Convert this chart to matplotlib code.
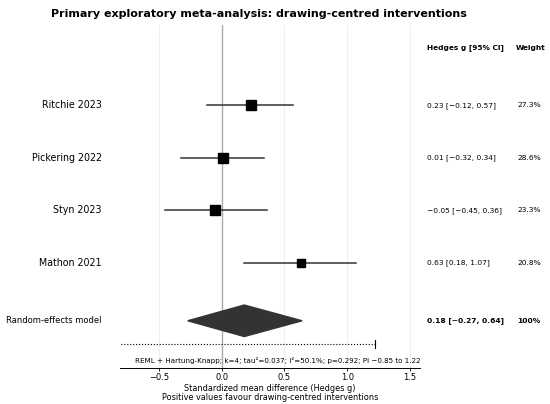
import numpy as np
import matplotlib
matplotlib.use("Agg")
import matplotlib.pyplot as plt
import matplotlib.transforms as mtransforms

# Study-level data
studies = ['Ritchie 2023', 'Pickering 2022', 'Styn 2023', 'Mathon 2021']
g = [0.23, 0.01, -0.05, 0.63]
ci_lo = [-0.12, -0.32, -0.45, 0.18]
ci_hi = [0.57, 0.34, 0.36, 1.07]
weights = [27.3, 28.6, 23.3, 20.8]

# Pooled random-effects estimate
pooled_g = 0.18
pooled_lo = -0.27
pooled_hi = 0.64
pi_lo = -0.85
pi_hi = 1.22
stats_text = 'REML + Hartung-Knapp; k=4; tau\u00b2=0.037; I\u00b2=50.1%; p=0.292; PI \u22120.85 to 1.22'

xticks = [-0.5, 0.0, 0.5, 1.0, 1.5]

fig = plt.figure(figsize=(5.5, 4.04), dpi=100)
ax = fig.add_axes([0.218, 0.089, 0.546, 0.849])

ys = np.arange(len(studies), 0, -1)  # 4,3,2,1
y_pooled = -0.1
y_pi = -0.54

ax.axvline(0, color='#aaaaaa', lw=1.0, zorder=1)
for t in xticks:
    ax.axvline(t, color='#eeeeee', lw=0.7, zorder=0)

for y, est, lo, hi, w in zip(ys, g, ci_lo, ci_hi, weights):
    ax.plot([lo, hi], [y, y], color='#333333', lw=1.1, zorder=2)
    ax.plot(est, y, marker='s', color='black', markersize=1.4 * np.sqrt(w), zorder=3)

# pooled diamond
dh = 0.3
ax.fill([pooled_lo, pooled_g, pooled_hi, pooled_g],
        [y_pooled, y_pooled + dh, y_pooled, y_pooled - dh],
        color='#333333', zorder=3)

# prediction interval
ax.plot([pi_lo, pi_hi], [y_pi, y_pi], color='black', lw=0.8, ls=':', zorder=2)
ax.plot([pi_hi, pi_hi], [y_pi - 0.07, y_pi + 0.07], color='black', lw=0.8, zorder=2)

ax.set_xlim(-0.81, 1.58)
ax.set_ylim(-1.0, 5.53)
ax.set_xticks(xticks)
ax.set_xticklabels(['\u22120.5', '0.0', '0.5', '1.0', '1.5'], fontsize=6)
ax.tick_params(axis='x', length=2.5, width=0.6, pad=1.2)
ax.set_yticks([])
for s in ['top', 'right', 'left']:
    ax.spines[s].set_visible(False)
ax.spines['bottom'].set_linewidth(0.7)
ax.set_xlabel('Standardized mean difference (Hedges g)\nPositive values favour drawing-centred interventions',
              fontsize=5.85, labelpad=1, linespacing=1.05)

trans = mtransforms.blended_transform_factory(ax.transAxes, ax.transData)
ax.text(1.023, 5.1, 'Hedges g [95% CI]', transform=trans, fontsize=5.3,
        fontweight='bold', va='center', ha='left')
ax.text(1.317, 5.1, 'Weight', transform=trans, fontsize=5.3,
        fontweight='bold', va='center', ha='left')

for y, name, est, lo, hi, w in zip(ys, studies, g, ci_lo, ci_hi, weights):
    ax.text(-0.06, y, name, transform=trans, fontsize=6.85, va='center', ha='right')
    s = f'{est:.2f} [{lo:.2f}, {hi:.2f}]'.replace('-', '\u2212')
    ax.text(1.023, y, s, transform=trans, fontsize=5.4, va='center', ha='left')
    ax.text(1.323, y, f'{w:.1f}%', transform=trans, fontsize=5.4, va='center', ha='left')

ax.text(-0.06, y_pooled, 'Random-effects model', transform=trans, fontsize=6,
        va='center', ha='right')
ps = f'{pooled_g:.2f} [{pooled_lo:.2f}, {pooled_hi:.2f}]'.replace('-', '\u2212')
ax.text(1.023, y_pooled, ps, transform=trans, fontsize=5.4, fontweight='bold',
        va='center', ha='left')
ax.text(1.323, y_pooled, '100%', transform=trans, fontsize=5.4, fontweight='bold',
        va='center', ha='left')

ax.text(1.0, -0.85, stats_text, transform=trans, fontsize=5.1, va='center', ha='right')

fig.text(0.47, 0.965, 'Primary exploratory meta-analysis: drawing-centred interventions',
         fontsize=8.0, fontweight='bold', ha='center', va='center')

fig.savefig('out.png', dpi=100)
